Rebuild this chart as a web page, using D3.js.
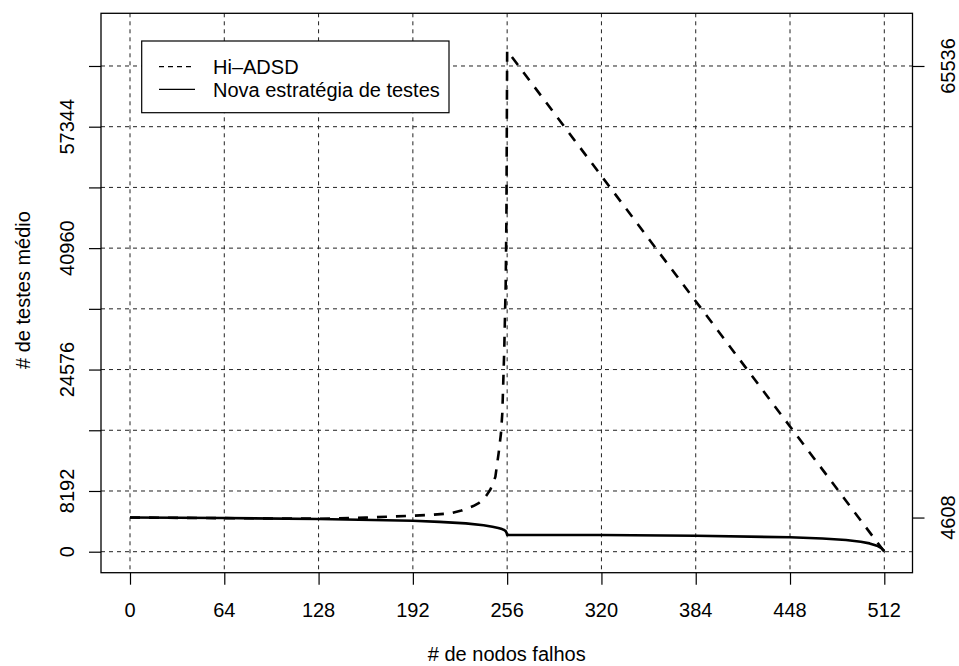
<!DOCTYPE html>
<html>
<head>
<meta charset="utf-8">
<script src="https://cdn.jsdelivr.net/npm/d3@7"></script>
<style>
  body { margin: 0; background: #fff; }
  svg { display: block; }
  text { font-family: "Liberation Sans", Arial, Helvetica, sans-serif; fill: #000; }
</style>
</head>
<body>
<svg width="959" height="666"></svg>
<script>
// ticks
var xTicks = [0, 64, 128, 192, 256, 320, 384, 448, 512];
var yTicks = [0, 8192, 16384, 24576, 32768, 40960, 49152, 57344, 65536];
var yLabelled = [0, 8192, 24576, 40960, 57344]; // R dropped the others (overlap)
var rightTicks = [4608, 65536];

// Hi-ADSD
var hiNodes = [0, 64, 128, 160, 192, 205, 217, 225, 233, 237, 240, 242, 244.4, 246, 248, 250.2, 251.8, 252.7, 253.2, 254, 255, 255.5, 256, 320, 384, 448, 512];
var hiTests = [4608, 4530, 4450, 4600, 4850, 4980, 5170, 5550, 6160, 6600, 7100, 7600, 8313, 9000, 10100, 13260, 15950, 18650, 21800, 27000, 36000, 45000, 67600, 50700, 33800, 16900, 0];

// nova estrategia de testes
var novaNodes = [0, 64, 128, 192, 210, 228, 240, 246, 250, 252.5, 254, 255, 255.7, 256, 320, 384, 448, 470, 486, 496, 502, 507, 510, 512];
var novaTests = [4608, 4540, 4406, 4177, 4030, 3826, 3560, 3368, 3200, 3050, 2920, 2780, 2500, 2270, 2250, 2156, 1940, 1790, 1580, 1347, 1120, 808, 480, 60];

var legendLabels = ['Hi\u2013ADSD', 'Nova estratégia de testes'];
var legendDash = ['5,4', null];

var svg = d3.select('svg');

// plot region (R margins)
var box = { left: 101, right: 912.5, top: 13.3, bottom: 572.7 };

var x = d3.scaleLinear().domain([0, 512]).range([130, 884.3]);
var y = d3.scaleLinear().domain([0, 57344]).range([551.7, 126.7]);

// grid first, dashed
var grid = svg.append('g')
	.attr('stroke', '#222')
	.attr('stroke-width', 1)
	.attr('stroke-dasharray', '4,4');

grid.selectAll('line.v')
	.data(xTicks)
	.enter()
	.append('line')
	.attr('class', 'v')
	.attr('x1', function(d) { return x(d); })
	.attr('x2', function(d) { return x(d); })
	.attr('y1', box.top)
	.attr('y2', box.bottom);

grid.selectAll('line.h')
	.data(yTicks)
	.enter()
	.append('line')
	.attr('class', 'h')
	.attr('x1', box.left)
	.attr('x2', box.right)
	.attr('y1', function(d) { return y(d); })
	.attr('y2', function(d) { return y(d); });

// axes: ticks only, labels placed by hand like R does
var bottomAxis = d3.axisBottom(x).tickValues(xTicks).tickSize(12).tickFormat('');
var leftAxis = d3.axisLeft(y).tickValues(yTicks).tickSize(12).tickFormat('');
var rightAxis = d3.axisRight(y).tickValues(rightTicks).tickSize(12).tickFormat('');

[
	svg.append('g').attr('transform', 'translate(0,' + box.bottom + ')').call(bottomAxis),
	svg.append('g').attr('transform', 'translate(' + box.left + ',0)').call(leftAxis),
	svg.append('g').attr('transform', 'translate(' + box.right + ',0)').call(rightAxis)
].forEach(function(g) {
	g.select('.domain').remove();
	g.selectAll('line').attr('stroke', '#000').attr('stroke-width', 1.2);
});

svg.append('g').selectAll('text')
	.data(xTicks)
	.enter()
	.append('text')
	.attr('x', function(d) { return x(d); })
	.attr('y', 616.7)
	.attr('text-anchor', 'middle')
	.attr('font-size', 20)
	.text(function(d) { return d; });

svg.append('g').selectAll('text')
	.data(yLabelled)
	.enter()
	.append('text')
	.attr('transform', function(d) { return 'translate(73.5,' + y(d) + ') rotate(-90)'; })
	.attr('text-anchor', 'middle')
	.attr('font-size', 20)
	.text(function(d) { return d; });

svg.append('g').selectAll('text')
	.data(rightTicks)
	.enter()
	.append('text')
	.attr('transform', function(d) { return 'translate(954.5,' + y(d) + ') rotate(-90)'; })
	.attr('text-anchor', 'middle')
	.attr('font-size', 20)
	.text(function(d) { return d; });

// axis titles
svg.append('text')
	.attr('x', (box.left + box.right) / 2)
	.attr('y', 661)
	.attr('text-anchor', 'middle')
	.attr('font-size', 20)
	.text('# de nodos falhos');

svg.append('text')
	.attr('transform', 'translate(30,' + 290 + ') rotate(-90)')
	.attr('text-anchor', 'middle')
	.attr('font-size', 20)
	.text('# de testes médio');

// series, straight segments between read points
var line = d3.line()
	.x(function(d) { return x(d[0]); })
	.y(function(d) { return y(d[1]); });

svg.append('path')
	.datum(d3.zip(hiNodes, hiTests))
	.attr('d', line)
	.attr('fill', 'none')
	.attr('stroke', '#000')
	.attr('stroke-width', 2.6)
	.attr('stroke-linejoin', 'round')
	.attr('stroke-dasharray', '10,9');

svg.append('path')
	.datum(d3.zip(novaNodes, novaTests))
	.attr('d', line)
	.attr('fill', 'none')
	.attr('stroke', '#000')
	.attr('stroke-linejoin', 'round')
	.attr('stroke-width', 2.6);

// box around plot
svg.append('rect')
	.attr('x', box.left)
	.attr('y', box.top)
	.attr('width', box.right - box.left)
	.attr('height', box.bottom - box.top)
	.attr('fill', 'none')
	.attr('stroke', '#000')
	.attr('stroke-width', 1.3);

// legend (white fill hides grid)
var legend = svg.append('g');
legend.append('rect')
	.attr('x', 141.7)
	.attr('y', 41)
	.attr('width', 449 - 141.7)
	.attr('height', 112.7 - 41)
	.attr('fill', '#fff')
	.attr('stroke', '#000')
	.attr('stroke-width', 1.2);

var rows = legend.selectAll('g.row')
	.data(legendLabels)
	.enter()
	.append('g')
	.attr('class', 'row')
	.attr('transform', function(d, i) { return 'translate(0,' + (66.7 + i * 22.6) + ')'; });

rows.append('line')
	.attr('x1', 159)
	.attr('x2', 195)
	.attr('stroke', '#000')
	.attr('stroke-width', 1.2)
	.attr('stroke-dasharray', function(d, i) { return legendDash[i]; });

rows.append('text')
	.attr('x', 213)
	.attr('y', 7.3)
	.attr('font-size', 20)
	.text(function(d) { return d; });
</script>
</body>
</html>
